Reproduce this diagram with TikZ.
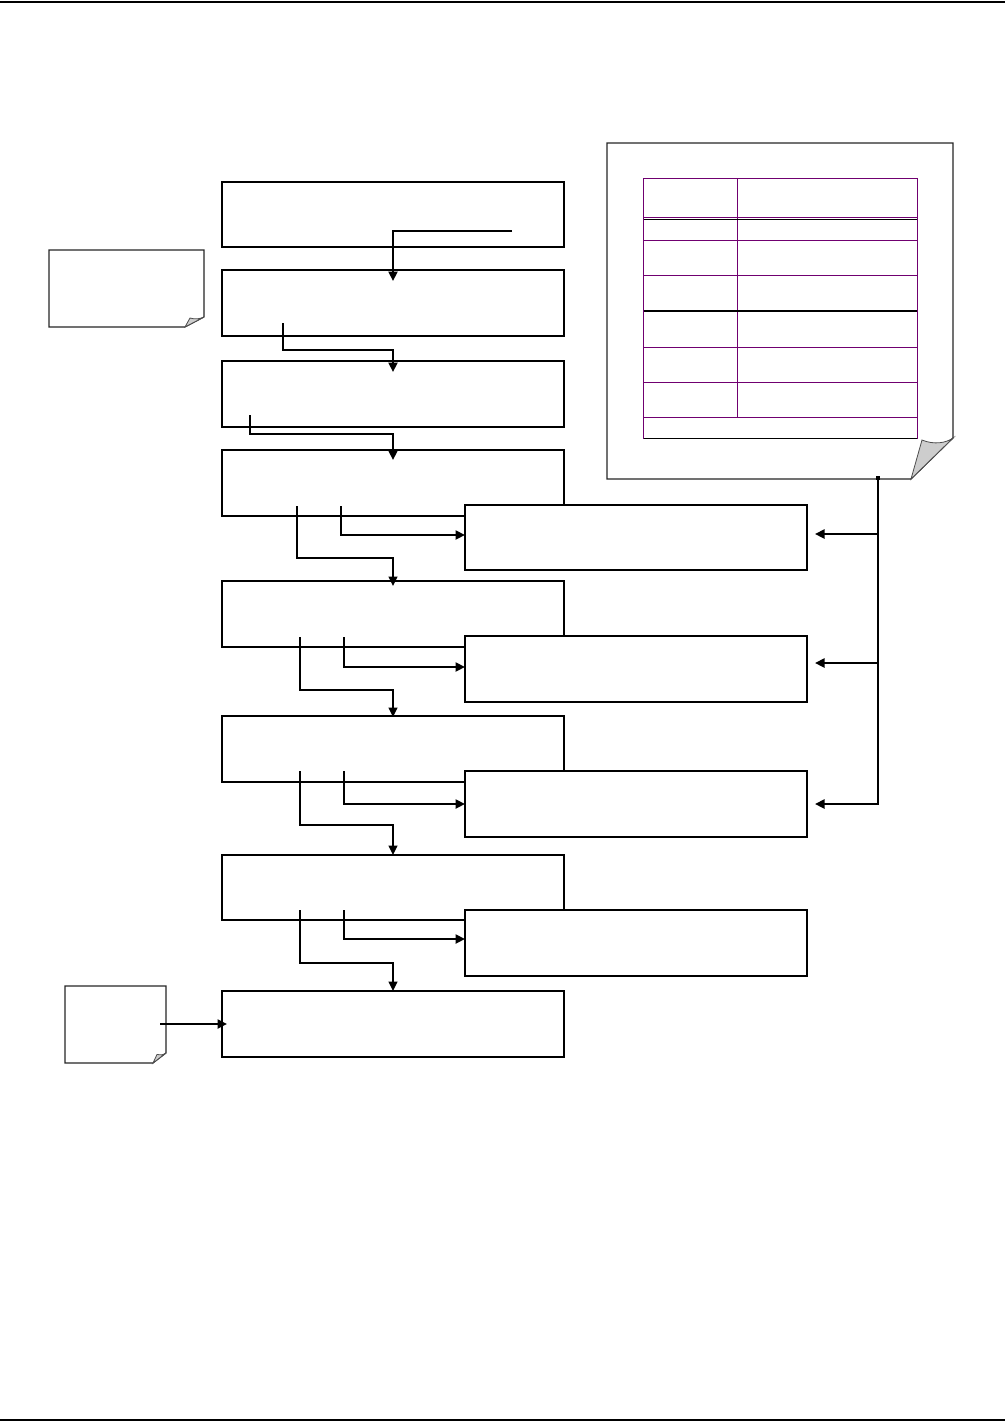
\documentclass[tikz,border=0pt]{standalone}
\usetikzlibrary{arrows.meta,calc}
\definecolor{tblpurple}{RGB}{112,0,112}
\definecolor{foldgray}{RGB}{205,205,205}
\begin{document}
\begin{tikzpicture}[x=1pt,y=-1pt,
  mainbox/.style={draw, line width=2pt, minimum width=342pt, inner sep=0pt, outer sep=0pt, anchor=north west, fill=white},
  sidebox/.style={draw, line width=1.4pt, minimum width=342pt, minimum height=66pt, inner sep=0pt, outer sep=0pt, anchor=north west, fill=white},
  arr/.style={line width=2.4pt, -{Triangle[length=9.5pt,width=9pt]}},
  thinarr/.style={line width=1.5pt, -{Triangle[length=9.5pt,width=9pt]}},
  note/.style={draw=black!85, line width=1.1pt, fill=white},
  fold/.style={draw=black!70, line width=0.8pt, fill=foldgray},
  rule/.style={line width=2pt}
]
\useasboundingbox (0,0) rectangle (1005,1422);
% page rules
\draw[rule] (0,1.5) -- (1005,1.5);
\draw[rule] (0,1420) -- (1005,1420);

% main boxes
\node[mainbox, minimum height=65pt] (b1) at (222,182) {};
\node[mainbox, minimum height=66pt] (b2) at (222,270) {};
\node[mainbox, minimum height=66pt] (b3) at (222,361) {};
\node[mainbox, minimum height=66pt] (b4) at (222,450) {};
\node[mainbox, minimum height=66pt] (b5) at (222,581) {};
\node[mainbox, minimum height=66pt] (b6) at (222,716) {};
\node[mainbox, minimum height=65pt] (b7) at (222,855) {};
\node[mainbox, minimum height=66pt] (b8) at (222,991) {};

% side boxes
\node[sidebox, minimum height=65pt] (r1) at (465,505) {};
\node[sidebox] (r2) at (465,636) {};
\node[sidebox] (r3) at (465,771) {};
\node[sidebox] (r4) at (465,910) {};

% connectors between main boxes
\coordinate (s1) at (512,231);
\draw[arr] (s1) -| ([yshift=-11pt]b2.north);
\coordinate (s2) at (283,323);
\draw[arr] (s2) -- (283,350) -| ([yshift=-11pt]b3.north);
\coordinate (s3) at (250,415);
\draw[arr] (s3) -- (250,434) -| ([yshift=-10pt]b4.north);
\coordinate (s4) at (297,506);
\draw[thinarr] (s4) -- (297,558) -| ([yshift=-5pt]b5.north);
\coordinate (s5) at (300,637);
\draw[thinarr] (s5) -- (300,690) -| ([yshift=-1pt]b6.north);
\coordinate (s6) at (300,771);
\draw[thinarr] (s6) -- (300,825) -| (b7.north);
\coordinate (s7) at (300,910);
\draw[thinarr] (s7) -- (300,963) -| (b8.north);

% connectors to side boxes
\coordinate (t4) at (341,506);
\draw[arr] (t4) |- ($(r1.west)+(0,-2.5)$);
\coordinate (t5) at (344,637);
\draw[arr] (t5) |- ($(r2.west)+(0,-2)$);
\coordinate (t6) at (344,771);
\draw[arr] (t6) |- (r3.west);
\coordinate (t7) at (344,910);
\draw[arr] (t7) |- ($(r4.west)+(0,-4)$);

% big note with table
\draw[note] (607,143) -- (953,143) -- (953,438) -- (911,479) -- (607,479) -- cycle;
\draw[fold] (911,479) -- (922,440) .. controls (934,445) and (946,443) .. (953,438) -- cycle;
% table
\draw[tblpurple, line width=1pt] (643.5,178) rectangle (917,438);
\draw[tblpurple, line width=1pt] (737,178) -- (737,417);
\foreach \yy in {217.5,240,275,347,382,417} {
  \draw[tblpurple, line width=1pt] (643.5,\yy) -- (917,\yy);
}
\draw[black, line width=1.3pt] (643.5,219.5) -- (917,219.5);
\draw[black, line width=1.5pt] (643.5,311) -- (917,311);
\draw[black, line width=1.3pt] (643.5,438.5) -- (917,438.5);

% bracket arrows from big note
\coordinate (bk) at (878,477);
\fill (876,476) rectangle (880,480);
\coordinate (j1) at (878,534);
\coordinate (j2) at (878,663);
\coordinate (j3) at (878,804);
\coordinate (e1) at ([xshift=8pt]r1.east);
\coordinate (e2) at ([xshift=8pt]r2.east);
\coordinate (e3) at ([xshift=8pt]r3.east);
\draw[arr] (bk) -- (j3) -- (e3 |- j3);
\draw[arr] (j1) -- (e1 |- j1);
\draw[arr] (j2) -- (e2 |- j2);

% left note
\draw[note] (49,250) -- (204,250) -- (204,317) -- (185,327) -- (49,327) -- cycle;
\draw[fold] (185,327) -- (190,318) .. controls (195,319.5) and (200,319) .. (204,317) -- cycle;

% bottom-left note
\draw[note] (65,986) -- (166,986) -- (166,1053) -- (153,1063) -- (65,1063) -- cycle;
\draw[fold] (153,1063) -- (157,1054.5) .. controls (160,1055.5) and (163,1055) .. (166,1053) -- cycle;
\coordinate (n3) at (160,1024);
\coordinate (e8) at ([xshift=5pt]b8.west);
\draw[arr] (n3) -- (e8 |- n3);
\end{tikzpicture}
\end{document}
